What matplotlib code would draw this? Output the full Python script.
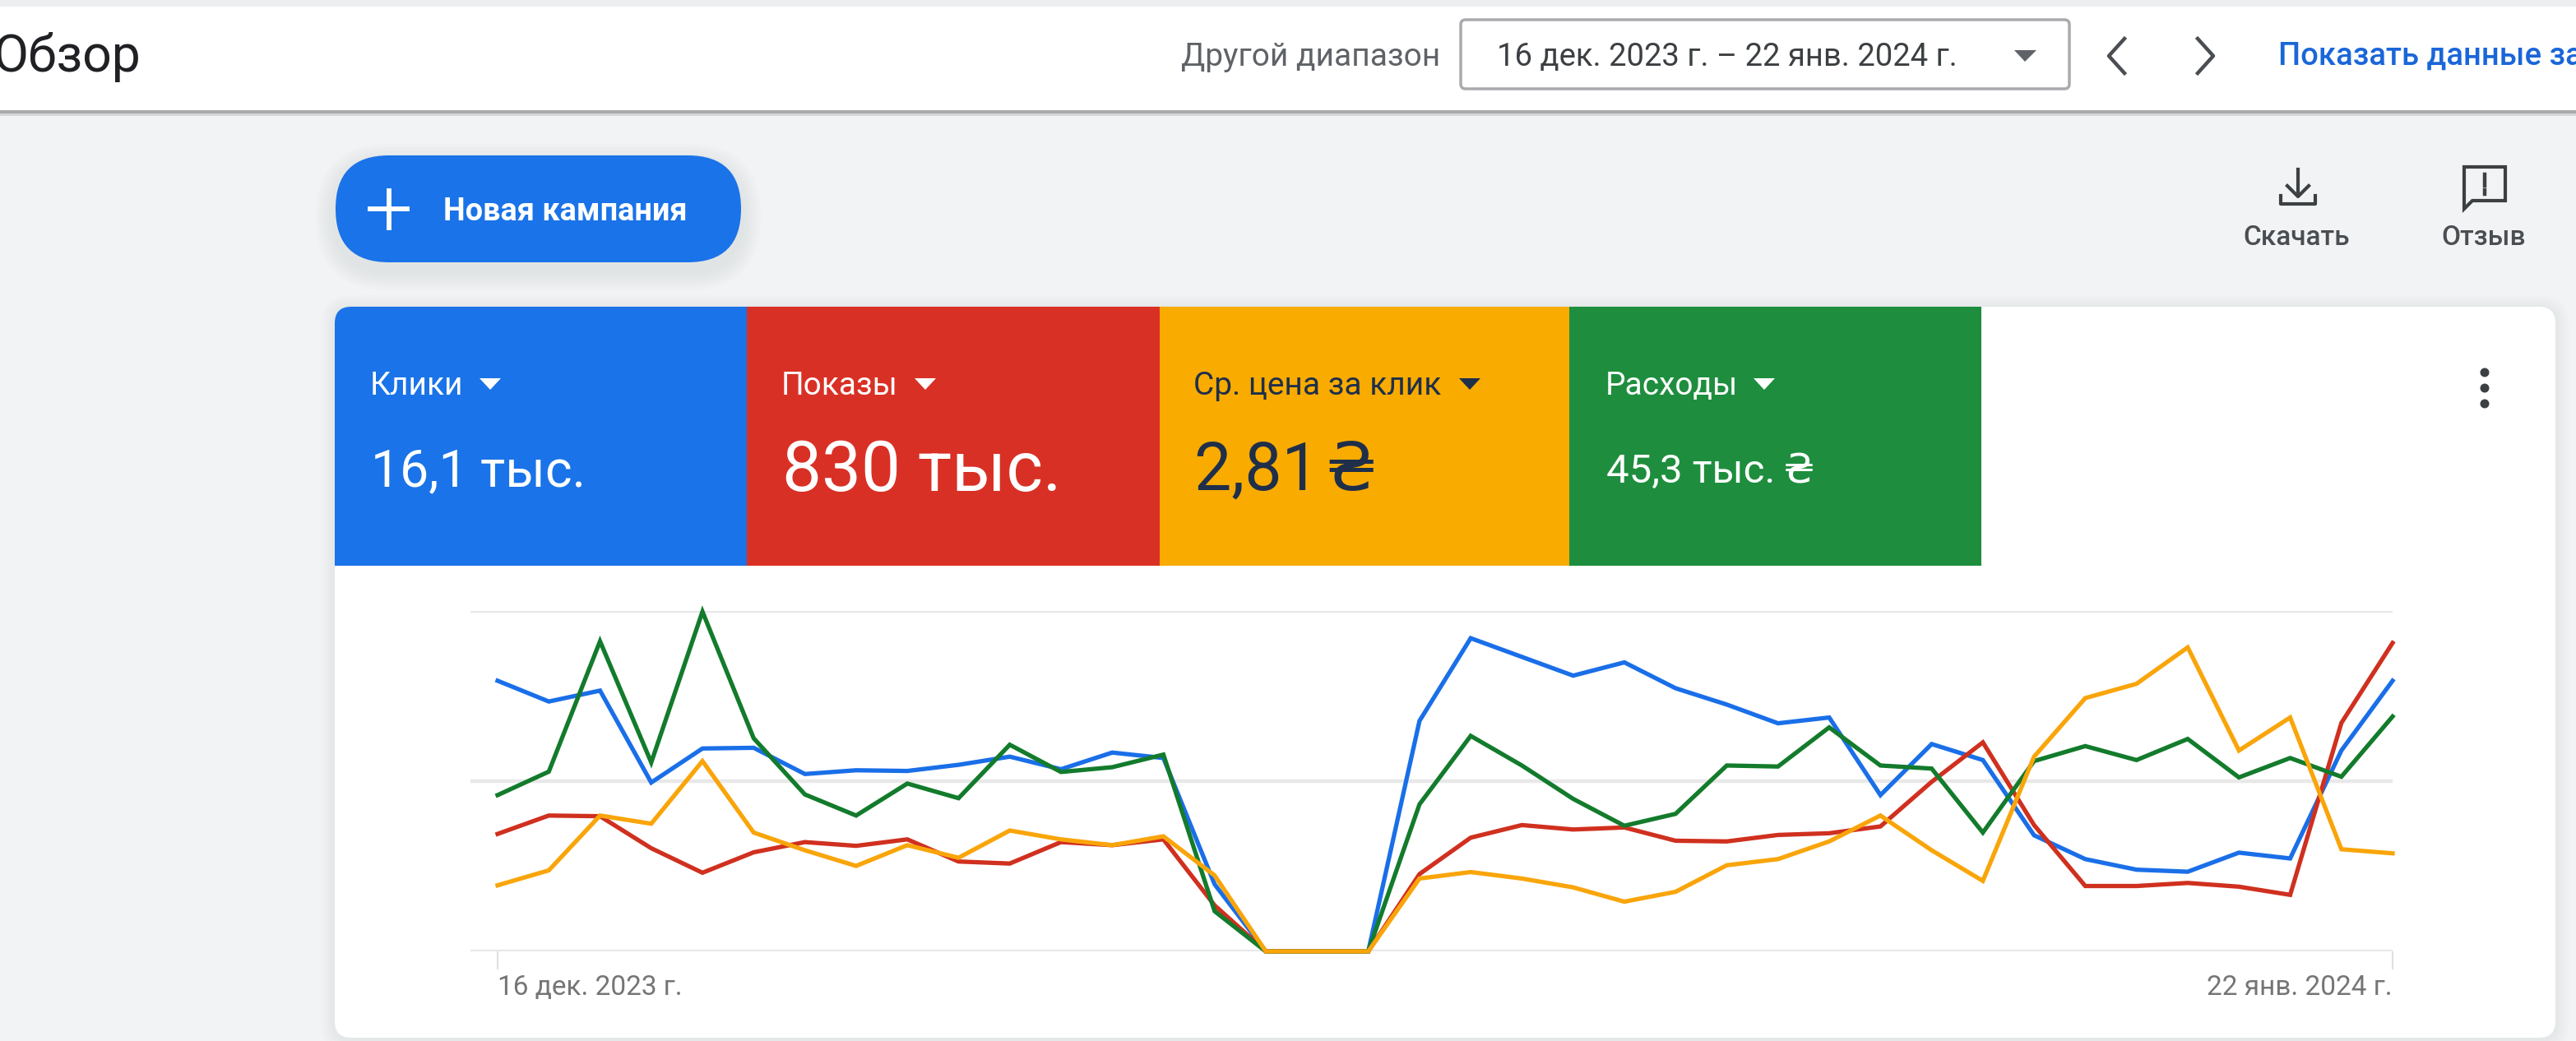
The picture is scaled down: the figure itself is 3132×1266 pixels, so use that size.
import matplotlib
matplotlib.use("Agg")
import matplotlib.pyplot as plt
from matplotlib.patches import Rectangle, FancyBboxPatch, Polygon, Circle

plt.rcParams['font.family'] = ['Roboto', 'DejaVu Sans']

W, H = 3132, 1266
dates = ["16 дек. 2023 г.", "22 янв. 2024 г."]
n_days = 38
clicks = [79.5,73.4,76.6,49.6,59.6,59.8,52.1,53.2,53.0,54.8,57.2,53.5,58.4,56.8,19.7,0,0,0,
          67.7,92.0,86.5,81.0,84.9,77.3,72.5,67.0,68.7,45.9,60.9,56.2,34.1,27.1,24.0,23.4,29.0,27.3,59.0,79.5]
impressions = [34.5,39.9,39.7,30.3,23.1,29.1,32.1,31.0,32.9,26.4,25.8,32.1,31.2,32.9,13.5,0,0,0,
               22.7,33.4,37.1,35.8,36.4,32.5,32.3,34.2,34.7,36.7,49.8,61.4,37.1,19.2,19.2,20.1,19.0,16.6,67.1,90.6]
cpc = [19.4,23.8,39.9,37.5,55.9,34.9,29.7,25.1,31.2,27.5,35.5,32.9,31.2,33.8,22.3,0,0,0,
       21.4,23.3,21.4,18.8,14.6,17.5,25.3,27.1,32.3,39.9,29.7,20.7,57.2,74.4,78.6,89.3,59.0,68.7,30.0,28.8]
cost = [45.9,52.8,91.1,55.5,99.8,62.6,46.1,39.9,49.3,45.0,60.7,52.7,54.1,57.8,11.8,0,0,0,
        43.2,63.3,54.6,44.8,36.9,40.4,54.6,54.3,65.8,54.6,53.7,34.9,55.9,60.3,56.2,62.4,51.1,56.8,51.3,69.0]
tile_names = ["Клики", "Показы", "Ср. цена за клик", "Расходы"]
tile_values = ["16,1 тыс.", "830 тыс.", "2,81\u200a₴", "45,3 тыс.\u2009₴"]

BG = "#f1f3f4"
fig = plt.figure(figsize=(W/100, H/100), dpi=100, facecolor=BG)
ui = fig.add_axes([0, 0, 1, 1])
ui.set_xlim(0, W); ui.set_ylim(H, 0); ui.axis("off")

def shadow(x, y, w, h, r, dy=6, color="#3c4043", layers=6, a=0.012, z=1):
    for i in range(layers):
        g = (layers - i) * 4
        ui.add_patch(FancyBboxPatch((x-g, y-g+dy), w+2*g, h+2*g,
                     boxstyle=f"round,pad=0,rounding_size={r+g}", fc=color, ec="none", alpha=a, zorder=z))

# top bar
ui.add_patch(Rectangle((0, 0), W, 8, fc="#eceef0", ec="none", zorder=1))
ui.add_patch(Rectangle((0, 130), W, 11, fc="#d5d7d9", ec="none", zorder=1))
ui.add_patch(Rectangle((0, 134), W, 4, fc="#a9abad", ec="none", zorder=1))
ui.add_patch(Rectangle((0, 8), W, 126, fc="white", ec="none", zorder=2))
ui.text(-9, 70, "Обзор", fontsize=45, color="#202124", va="center", zorder=5)
ui.text(1436, 69, "Другой диапазон", fontsize=28, color="#5f6368", va="center", zorder=5)
ui.add_patch(FancyBboxPatch((1776, 24), 740, 84, boxstyle="round,pad=0,rounding_size=6",
                            fc="white", ec="#a8aaad", lw=2.5, zorder=3))
ui.text(1820, 69, "16 дек. 2023 г. – 22 янв. 2024 г.", fontsize=27.5, color="#3c4043", va="center", zorder=5)
ui.add_patch(Polygon([(2449, 61), (2476, 61), (2462, 75)], fc="#5f6368", ec="none", zorder=5))
ui.plot([2583, 2564, 2583], [47, 68, 89], color="#4a4e52", lw=3.2, zorder=5)
ui.plot([2672, 2691, 2672], [47, 68, 89], color="#4a4e52", lw=3.2, zorder=5)
ui.text(2770, 68, "Показать данные за", fontsize=27.5, color="#1a66d9", va="center", weight="medium", zorder=5)

# button
shadow(408, 189, 493, 130, 65, dy=10)
ui.add_patch(FancyBboxPatch((408, 189), 493, 130, boxstyle="round,pad=0,rounding_size=65",
                            fc="#1a73e8", ec="none", zorder=3))
ui.plot([450, 495], [254, 254], color="white", lw=4.2, zorder=5)
ui.plot([472.5, 472.5], [232, 277], color="white", lw=4.2, zorder=5)
ui.text(539, 257, "Новая кампания", fontsize=27.3, color="white", va="center", weight="bold", zorder=5)

# right actions
ic = "#3c4043"
ui.plot([2794, 2794], [206, 236], color=ic, lw=3, zorder=5)
ui.plot([2781, 2794, 2807], [226, 239, 226], color=ic, lw=3, zorder=5)
ui.plot([2773, 2773, 2815, 2815], [238, 248, 248, 238], color=ic, lw=3, zorder=5)
ui.text(2792, 289, "Скачать", fontsize=24, color="#4a4e52", ha="center", va="center", weight="medium", zorder=5)
ui.add_patch(Polygon([(2996, 203), (3046, 203), (3046, 244), (3006, 244), (2996, 254)],
                     fc="none", ec=ic, lw=3, zorder=5))
ui.plot([3021, 3021], [212, 226], color=ic, lw=3.2, zorder=5)
ui.plot([3021, 3021], [231, 236], color=ic, lw=3.2, zorder=5)
ui.text(3020, 289, "Отзыв", fontsize=24, color="#4a4e52", ha="center", va="center", weight="medium", zorder=5)

# card
shadow(407, 373, 2700, 889, 20, dy=2, layers=4, a=0.012)
card = FancyBboxPatch((407, 373), 2700, 889, boxstyle="round,pad=0,rounding_size=20",
                      fc="white", ec="none", zorder=2)
ui.add_patch(card)

tile_x = [407, 908, 1410, 1908, 2409]
tile_c = ["#1a73e8", "#d93025", "#f9ab00", "#1e8e3e"]
txt_c = ["white", "white", "#1f2f4a", "white"]
label_x = [450, 950, 1451, 1952]
tri_x = [596, 1125, 1787, 2145]
val_size = [45, 61.5, 58, 35.5]
for i in range(4):
    t = Rectangle((tile_x[i], 373), tile_x[i+1]-tile_x[i], 315, fc=tile_c[i], ec="none", zorder=3)
    ui.add_patch(t); t.set_clip_path(card)
    ui.text(label_x[i], 469, tile_names[i], fontsize=28, color=txt_c[i], va="center", zorder=5)
    ui.add_patch(Polygon([(tri_x[i]-13, 460), (tri_x[i]+13, 460), (tri_x[i], 474)],
                         fc=txt_c[i], ec="none", zorder=5))
    ui.text(label_x[i]+1, 574, tile_values[i], fontsize=val_size[i], color=txt_c[i], va="center", zorder=5)
for yy in (453, 472, 491):
    ui.add_patch(Circle((3021, yy), 5.5, fc="#3c4043", ec="none", zorder=5))

# chart
left, right, top, bot = 572, 2909, 743, 1157
ax = fig.add_axes([left/W, 1-bot/H, (right-left)/W, (bot-top)/H], facecolor="none", zorder=4)
x = list(range(n_days))
ax.set_xlim(-(605-left)/((right-605)/(n_days-1)), n_days-1)
ax.set_ylim(0, 100)
ax.set_yticks([0, 50, 100]); ax.set_yticklabels([])
ax.grid(axis="y", color="#e8e8e8", lw=3.2)
ax.set_axisbelow(True)
ax.tick_params(axis="y", length=0)
for s in ax.spines.values():
    s.set_visible(False)
ax.set_xticks([0, n_days-1]); ax.set_xticklabels(dates, fontsize=24, color="#757575")
ax.tick_params(axis="x", length=16, width=1.5, color="#e0e0e0", pad=4)
lbls = ax.get_xticklabels()
lbls[0].set_ha("left"); lbls[1].set_ha("right")
for vals, col in ((clicks, "#1a6fe8"), (impressions, "#d0301f"), (cost, "#137b2c"), (cpc, "#f9a50a")):
    ax.plot(x, vals, color=col, lw=3.8, solid_joinstyle="miter", clip_on=False)

fig.savefig("out.png", dpi=100, facecolor=BG)
